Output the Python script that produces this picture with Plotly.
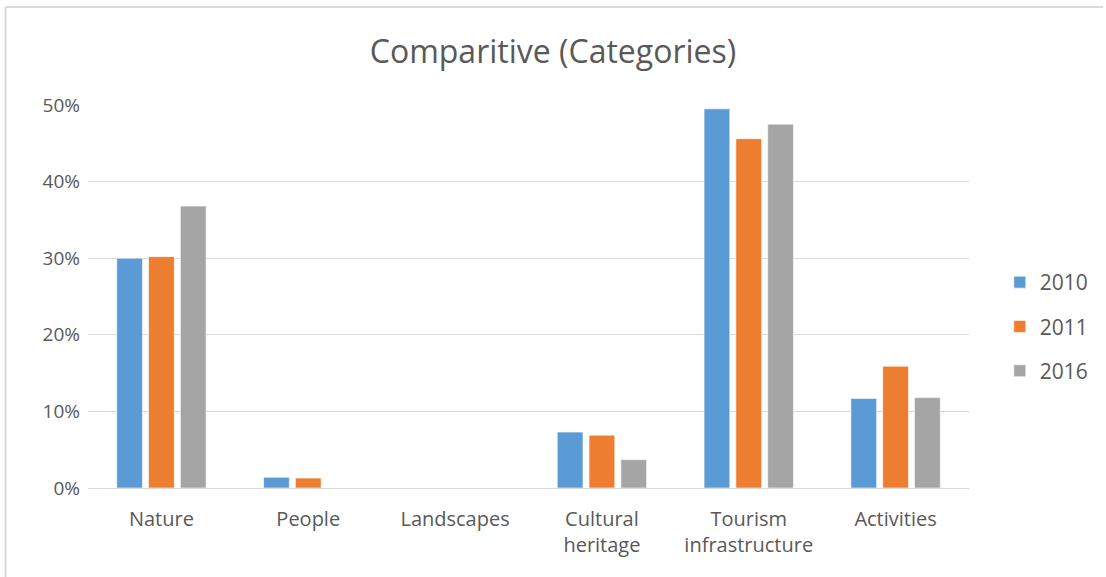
import plotly.graph_objects as go

categories = ["Nature", "People", "Landscapes", "Cultural<br>heritage",
              "Tourism<br>infrastructure", "Activities"]
values_2010 = [0.300, 0.014, 0.0, 0.073, 0.495, 0.117]
values_2011 = [0.302, 0.013, 0.0, 0.069, 0.456, 0.159]
values_2016 = [0.368, 0.0, 0.0, 0.037, 0.475, 0.118]
y_ticks = [0, 0.1, 0.2, 0.3, 0.4, 0.5]
y_tick_labels = ["0%", "10%", "20%", "30%", "40%", "50%"]

series = [
    ("2010", values_2010, "#5B9BD5"),
    ("2011", values_2011, "#ED7D31"),
    ("2016", values_2016, "#A5A5A5"),
]

FONT = "'Open Sans', sans-serif"
TEXT = "#595959"

fig = go.Figure()
for name, vals, color in series:
    fig.add_trace(go.Bar(
        name=name, x=categories, y=vals, legendgroup=name,
        marker=dict(color=color, line=dict(color="rgba(255,255,255,0.6)", width=1)),
    ))

# plot area in pixels: x 88..975, y 105..488
L, R, T, B = 88, 975, 105, 488
W, H = 1106, 577
pw, ph = R - L, B - T

def px_x(p):
    return (p - L) / pw

def px_y(p):
    return (B - p) / ph

fig.update_layout(
    width=W, height=H,
    margin=dict(l=L, r=W - R, t=T, b=H - B),
    paper_bgcolor="white", plot_bgcolor="white",
    barmode="group", bargap=0.35, bargroupgap=0.19,
    title=dict(text="Comparitive (Categories)", x=0.5, xanchor="center",
               y=1 - 52 / H, yanchor="middle",
               font=dict(family=FONT, size=32, color=TEXT)),
    font=dict(family=FONT, color=TEXT),
    xaxis=dict(showgrid=False, showline=True, linecolor="#D9D9D9", linewidth=1,
               ticks="", ticklabelstandoff=13,
               tickfont=dict(size=20, color=TEXT)),
    yaxis=dict(range=[0, 0.5], tickvals=y_ticks, ticktext=y_tick_labels,
               showgrid=True, gridcolor="#D9D9D9", gridwidth=1,
               zeroline=False, showline=False, ticks="", ticklabelstandoff=7,
               tickfont=dict(size=19, color=TEXT)),
    legend=dict(x=px_x(1006), y=px_y(262), xanchor="left", yanchor="top",
                traceorder="grouped",
                font=dict(size=21, color=TEXT), tracegroupgap=14,
                itemwidth=30, bgcolor="rgba(0,0,0,0)"),
    shapes=[
        dict(type="line", xref="paper", yref="paper",
             x0=px_x(5), x1=px_x(1110), y0=px_y(7), y1=px_y(7),
             line=dict(color="#D9D9D9", width=2)),
        dict(type="line", xref="paper", yref="paper",
             x0=px_x(5), x1=px_x(5), y0=px_y(7), y1=px_y(580),
             line=dict(color="#D9D9D9", width=2)),
    ],
)

fig.write_html("out.html")
